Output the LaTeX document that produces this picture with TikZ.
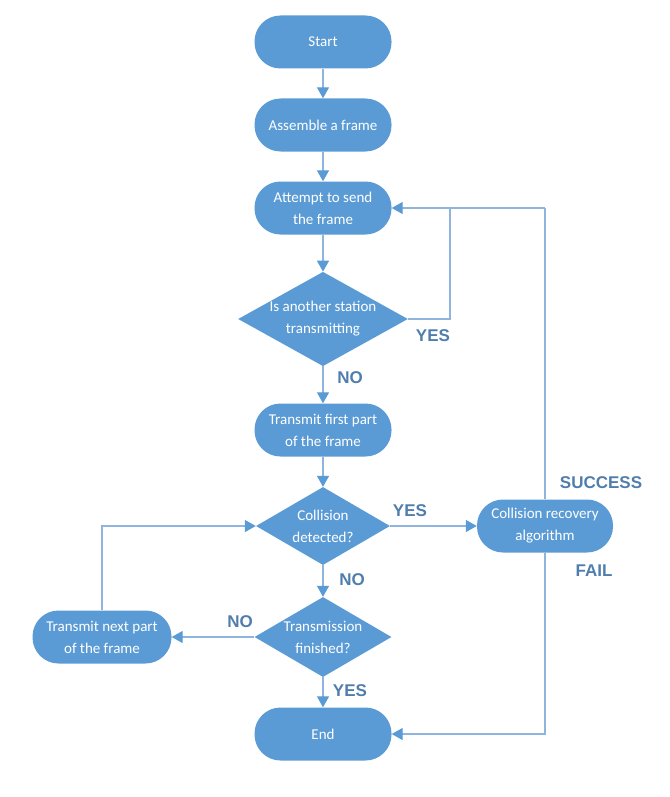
\documentclass[tikz,border=0pt]{standalone}
\usepackage{fontspec}
\setmainfont{Carlito}
\newfontfamily\labelfont{Liberation Sans}
\usetikzlibrary{arrows.meta}
\usetikzlibrary{shapes.geometric}
\definecolor{boxblue}{RGB}{91,155,213}
\definecolor{lineblue}{RGB}{143,180,222}
\definecolor{labelblue}{RGB}{80,126,172}
\tikzstyle{stadium}=[%
  fill=boxblue,
  rectangle,
  rounded corners=26pt,
  minimum height=53pt,
  minimum width=137pt,
  inner sep=0pt,
  text=white,
  align=center,
  font=\fontsize{15}{22}\selectfont
]
\tikzstyle{decision}=[%
  fill=boxblue,
  diamond,
  aspect=1.8,
  inner sep=0pt,
  text=white,
  align=center,
  font=\fontsize{15}{22}\selectfont
]
\tikzstyle{flow}=[%
  draw=lineblue,
  line width=1.3pt,
  -{Triangle[length=11pt,width=12pt,color=boxblue]}
]
\tikzstyle{plain}=[draw=lineblue, line width=1.3pt]
\tikzstyle{answer}=[%
  text=labelblue,
  font=\labelfont\bfseries\fontsize{17}{20}\selectfont
]

\begin{document}
\begin{tikzpicture}[x=1pt, y=-1pt]
      \useasboundingbox (0,0) rectangle (669,797);
      \node[stadium] (start) at (323, 42) {Start};
      \node[stadium] (assemble) at (323, 125) {Assemble a frame};
      \node[stadium] (attempt) at (323, 208) {Attempt to send\\the frame};
      \node[decision, minimum width=167pt, minimum height=92pt] (busy) at (323, 319) {Is another station\\transmitting};
      \node[stadium] (first) at (323, 430) {Transmit first part\\of the frame};
      \node[decision, minimum width=134pt, minimum height=78pt] (collision) at (323, 526) {Collision\\detected?};
      \node[stadium, minimum width=136pt] (recovery) at (545, 526) {Collision recovery\\algorithm};
      \node[decision, minimum width=136pt, minimum height=80pt] (finished) at (323, 637) {Transmission\\finished?};
      \node[stadium, minimum width=139pt] (next) at (102, 637) {Transmit next part\\of the frame};
      \node[stadium] (end) at (323, 734) {End};
      \coordinate (loop) at (450, 208);
      \coordinate (top) at (545, 208);
      \draw[flow] (start) to (assemble);
      \draw[flow] (assemble) to (attempt);
      \draw[flow] (attempt) to (busy);
      \draw[flow] (busy) to (first);
      \draw[flow] (first) to (collision);
      \draw[flow] (collision) to (finished);
      \draw[flow] (finished) to (end);
      \draw[plain] (busy.east) -| (loop);
      \draw[plain] (recovery.north) to (top);
      \draw[flow] (top) to (attempt.east);
      \draw[flow] (recovery.south) |- (end.east);
      \draw[flow] (collision.east) to (recovery.west);
      \draw[flow] (finished.west) to (next.east);
      \draw[flow] (next.north) |- (collision.west);
      \foreach \x/\y/\txt [count=\n] in {433/336/YES, 350/378/NO, 410/511/YES,
          601/483/SUCCESS, 594/571/FAIL, 352/580/NO, 240/622/NO, 350/691/YES} {%
        \node[answer] (answer\n) at (\x, \y) {\txt};
      }
    \end{tikzpicture}
\end{document}
